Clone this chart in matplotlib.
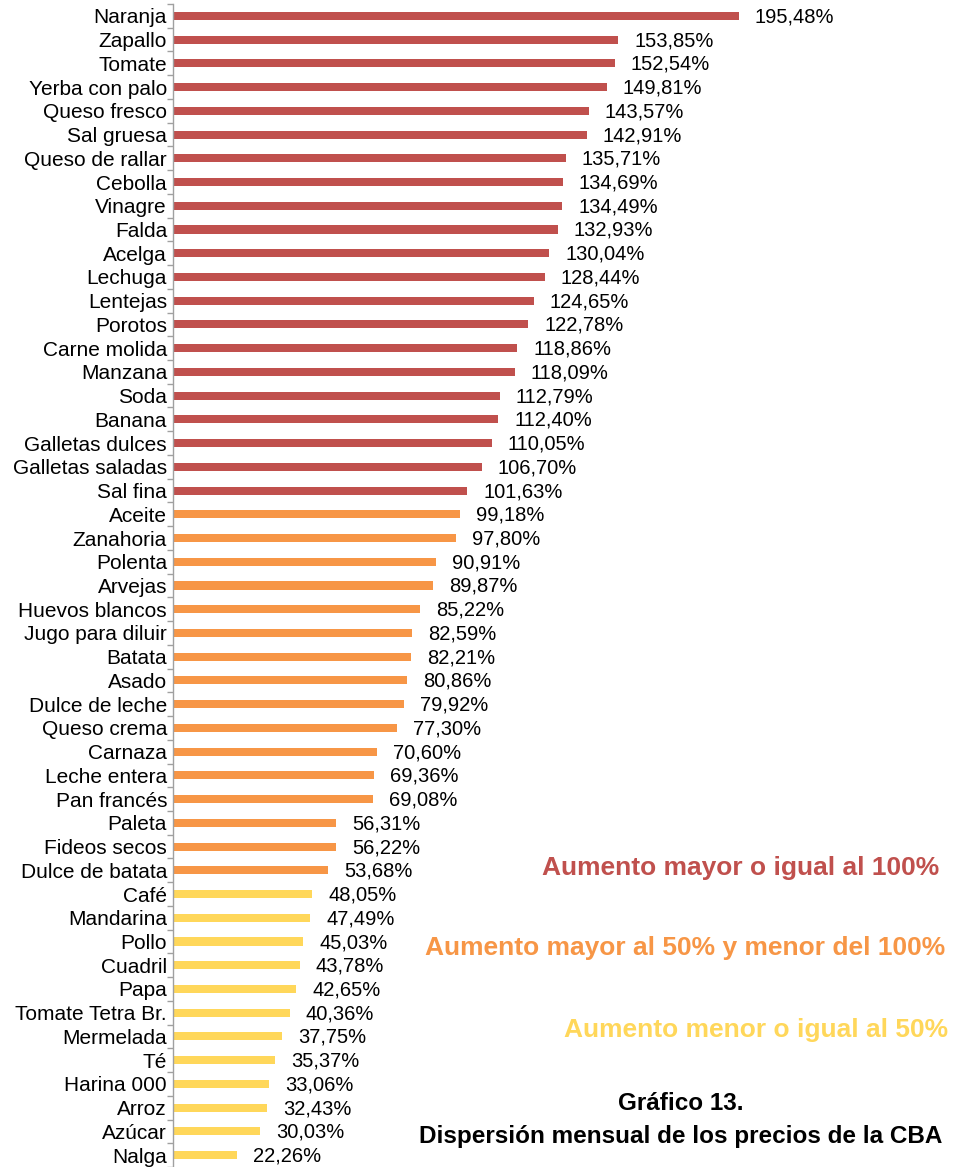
import numpy as np
import matplotlib
matplotlib.use("Agg")
from matplotlib import pyplot as plt

plt.rcParams['font.family'] = ['Liberation Sans', 'DejaVu Sans']

productos = ['Naranja', 'Zapallo', 'Tomate', 'Yerba con palo', 'Queso fresco', 'Sal gruesa',
             'Queso de rallar', 'Cebolla', 'Vinagre', 'Falda', 'Acelga', 'Lechuga', 'Lentejas',
             'Porotos', 'Carne molida', 'Manzana', 'Soda', 'Banana', 'Galletas dulces',
             'Galletas saladas', 'Sal fina', 'Aceite', 'Zanahoria', 'Polenta', 'Arvejas',
             'Huevos blancos', 'Jugo para diluir', 'Batata', 'Asado', 'Dulce de leche',
             'Queso crema', 'Carnaza', 'Leche entera', 'Pan francés', 'Paleta', 'Fideos secos',
             'Dulce de batata', 'Café', 'Mandarina', 'Pollo', 'Cuadril', 'Papa',
             'Tomate Tetra Br.', 'Mermelada', 'Té', 'Harina 000', 'Arroz', 'Azúcar', 'Nalga']

aumentos = [195.48, 153.85, 152.54, 149.81, 143.57, 142.91, 135.71, 134.69, 134.49, 132.93,
            130.04, 128.44, 124.65, 122.78, 118.86, 118.09, 112.79, 112.40, 110.05, 106.70,
            101.63, 99.18, 97.80, 90.91, 89.87, 85.22, 82.59, 82.21, 80.86, 79.92, 77.30,
            70.60, 69.36, 69.08, 56.31, 56.22, 53.68, 48.05, 47.49, 45.03, 43.78, 42.65,
            40.36, 37.75, 35.37, 33.06, 32.43, 30.03, 22.26]

ROJO = '#C0504D'
NARANJA = '#F79646'
AMARILLO = '#FFD75A'


def color_de(v):
    if v >= 100:
        return ROJO
    if v > 50:
        return NARANJA
    return AMARILLO


W, H = 962, 1167
fig = plt.figure(figsize=(W / 100, H / 100), dpi=100)
ax = fig.add_axes([173 / W, 0 / H, 1 - 173 / W, 1163 / H])

n = len(productos)
y = np.arange(n)
colores = [color_de(v) for v in aumentos]
ax.barh(y, aumentos, height=0.34, color=colores)

ax.set_ylim(n - 0.5, -0.5)
ax.set_xlim(0, (W - 173) / 2.895)

for yi, v in zip(y, aumentos):
    etiqueta = f'{v:.2f}%'.replace('.', ',')
    ax.annotate(etiqueta, (v, yi), xytext=(16, -1), textcoords='offset pixels',
                va='center', ha='left', fontsize=14.5, color='black')

ax.set_yticks(y)
ax.set_yticklabels(productos, fontsize=15)
ax.tick_params(axis='y', which='major', length=0, pad=4.3)
ax.set_yticks(np.arange(-0.5, n, 1), minor=True)
ax.tick_params(axis='y', which='minor', length=4, width=1, color='#A0A0A0')
ax.set_xticks([])
for s in ['top', 'right', 'bottom']:
    ax.spines[s].set_visible(False)
ax.spines['left'].set_color('#A0A0A0')
ax.spines['left'].set_linewidth(1)

# leyenda de colores
fig.text(939 / W, 1 - 868 / H, 'Aumento mayor o igual al 100%', color=ROJO,
         fontsize=19, fontweight='bold', ha='right', va='center')
fig.text(945 / W, 1 - 948 / H, 'Aumento mayor al 50% y menor del 100%', color=NARANJA,
         fontsize=19, fontweight='bold', ha='right', va='center')
fig.text(948 / W, 1 - 1030 / H, 'Aumento menor o igual al 50%', color=AMARILLO,
         fontsize=19, fontweight='bold', ha='right', va='center')

fig.text(681 / W, 1 - 1104 / H, 'Gráfico 13.', fontsize=17.5, fontweight='bold',
         ha='center', va='center')
fig.text(681 / W, 1 - 1137 / H, 'Dispersión mensual de los precios de la CBA', fontsize=17.5,
         fontweight='bold', ha='center', va='center')

fig.savefig('out.png', dpi=100)
